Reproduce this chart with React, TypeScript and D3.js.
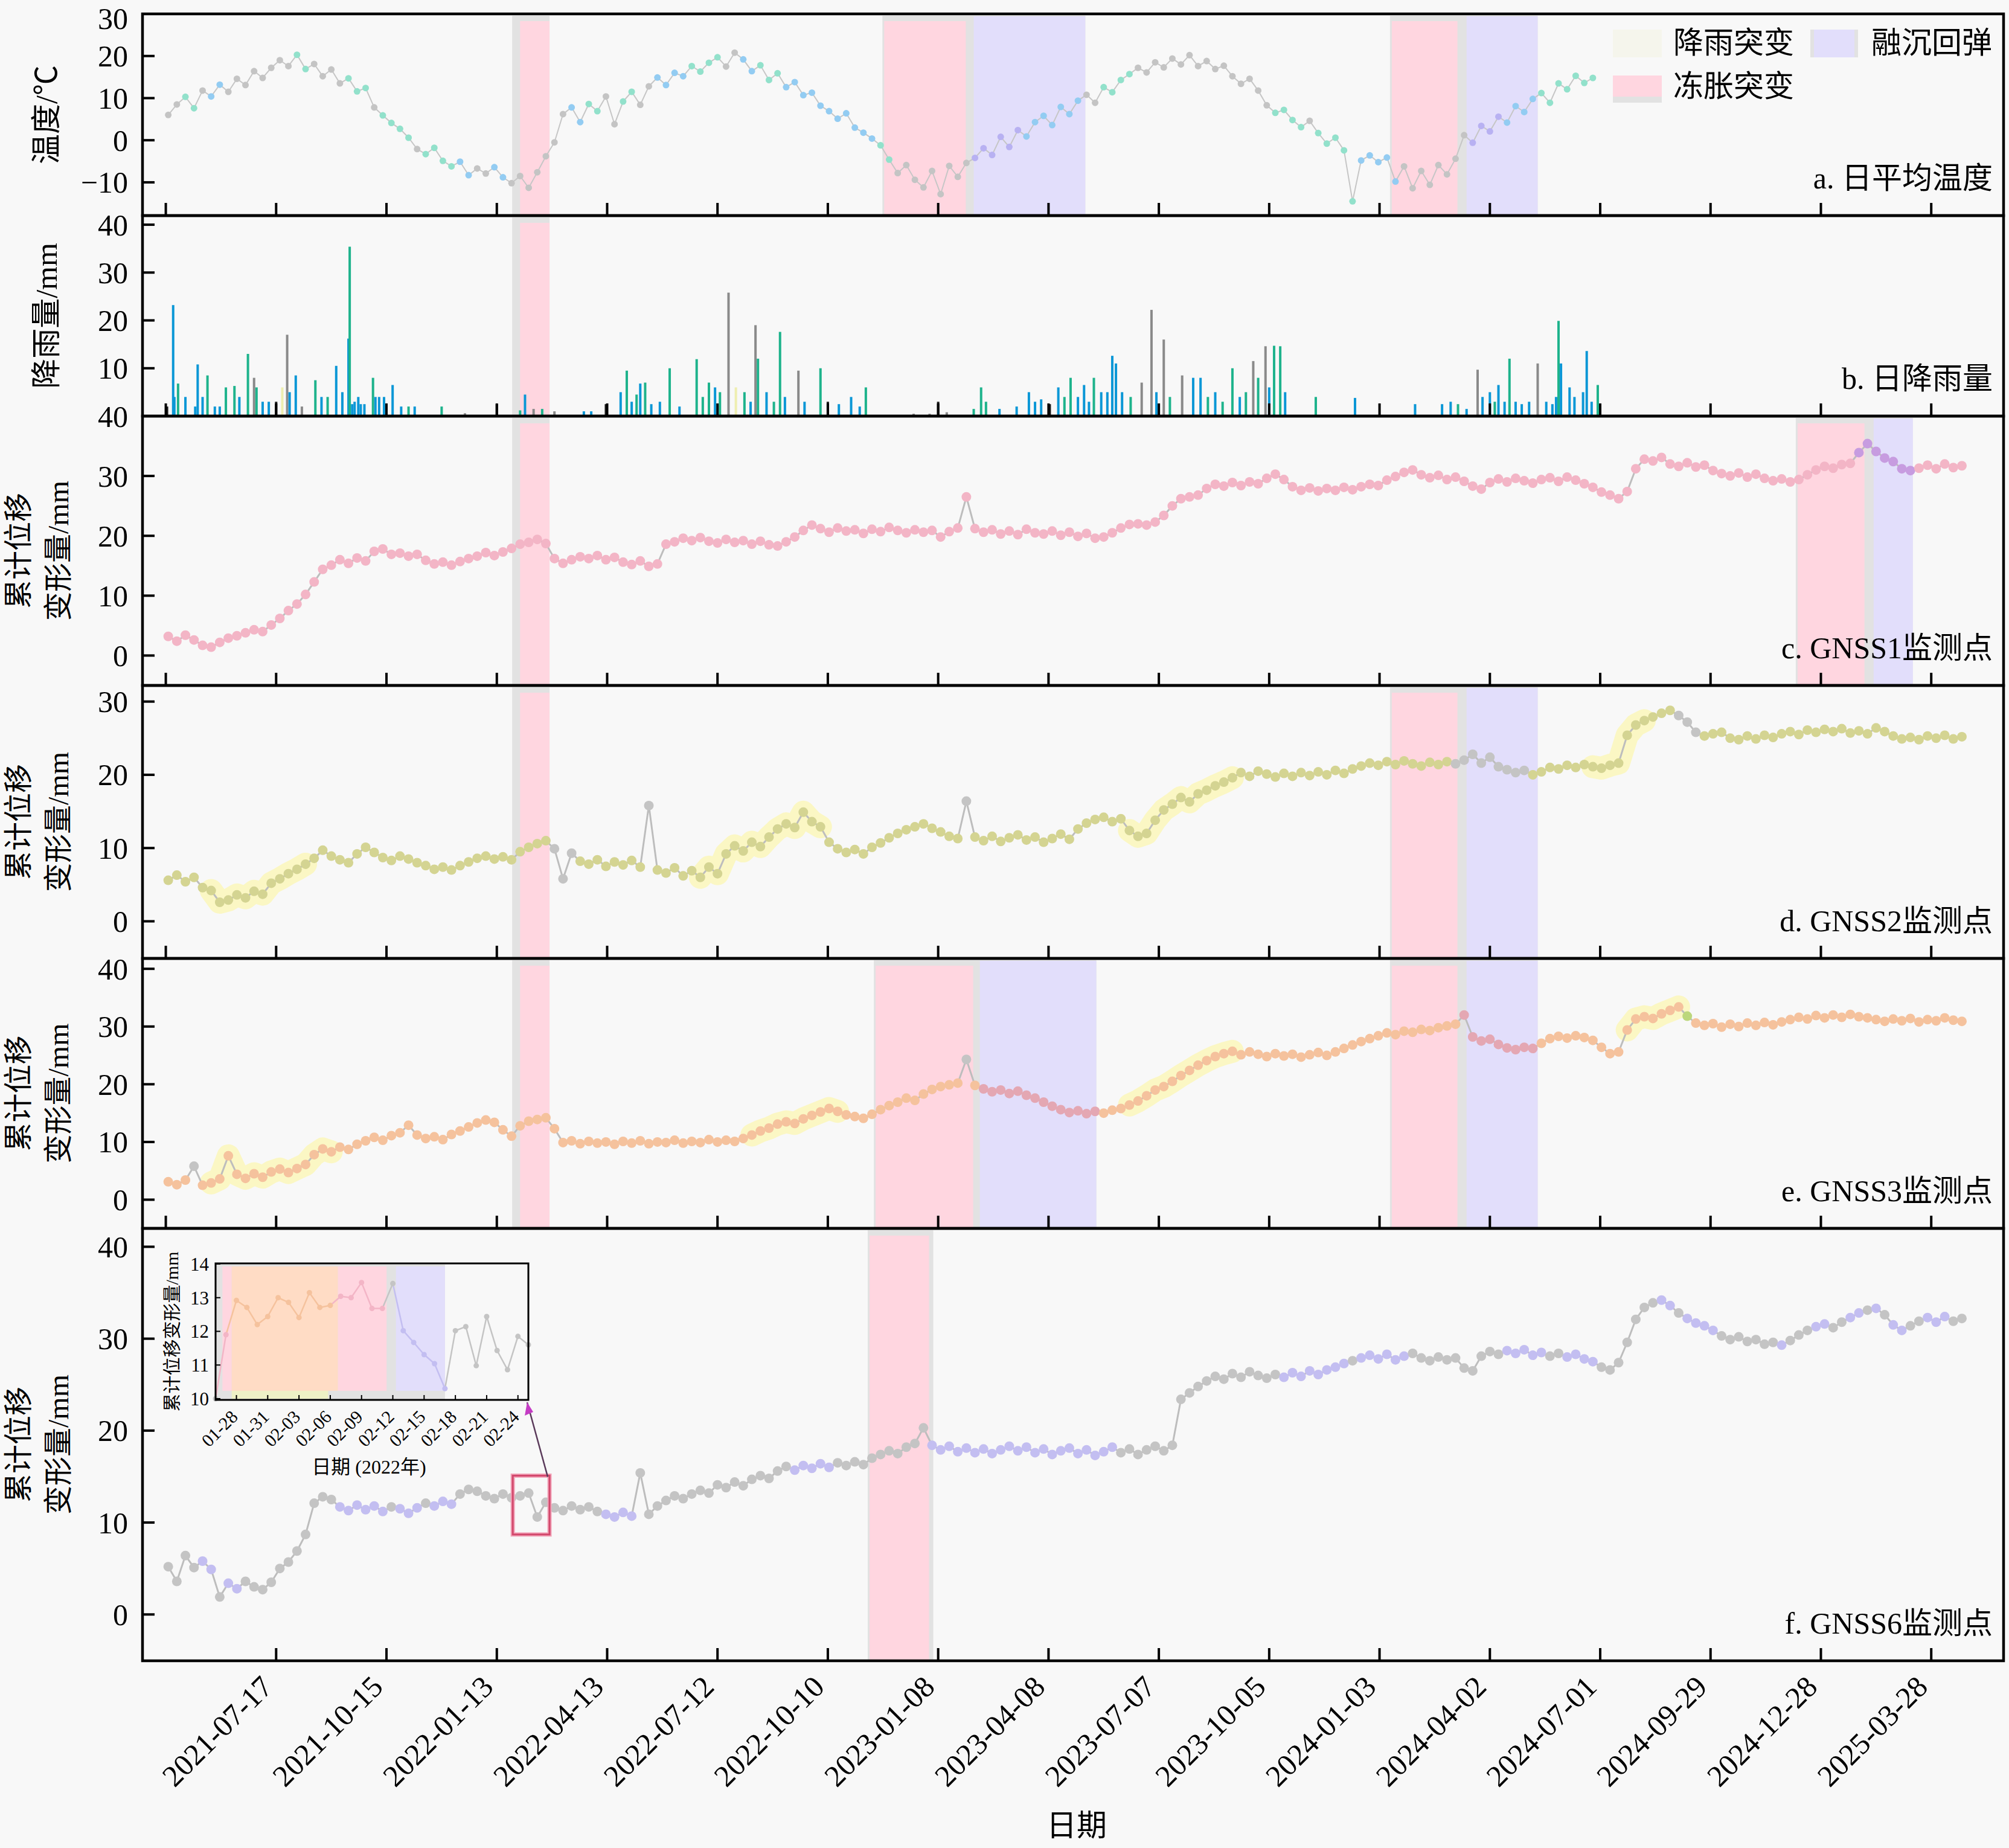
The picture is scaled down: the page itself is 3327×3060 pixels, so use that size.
import React from 'react';
import * as d3 from 'd3';

const W = 3327;
const H = 3060;
const LEFT = 236;
const RIGHT = 3318;
const FONT = "'Liberation Serif','Times New Roman','Noto Sans CJK SC',serif";

const day = (s: string) => d3.timeParse('%Y-%m-%d')(s) as Date;

// x axis
const X_DOMAIN = ['2021-03-30', '2025-05-26'];
const TICK_LABELS = [
  '2021-07-17', '2021-10-15', '2022-01-13', '2022-04-13', '2022-07-12', '2022-10-10',
  '2023-01-08', '2023-04-08', '2023-07-07', '2023-10-05', '2024-01-03', '2024-04-02',
  '2024-07-01', '2024-09-29', '2024-12-28', '2025-03-28',
];
const EXTRA_TICK = '2021-04-18';

// weekly samples
const SERIES_START = '2021-04-20';
const STEP_DAYS = 7;

const temperature = [
  6.0, 8.5, 10.3, 7.6, 11.8, 10.4, 13.2, 11.5, 14.6, 13.1,
  16.4, 14.8, 17.2, 19.0, 17.6, 20.3, 16.9, 18.1, 15.2, 16.8,
  13.5, 14.7, 11.6, 12.4, 7.8, 5.9, 4.1, 2.7, 0.6, -2.1,
  -3.3, -1.8, -4.9, -6.2, -5.1, -8.3, -6.7, -7.9, -6.4, -8.8,
  -10.2, -8.5, -11.3, -7.6, -3.8, -0.5, 6.2, 7.8, 4.3, 8.6,
  6.9, 10.4, 3.8, 9.2, 11.5, 8.4, 12.8, 14.9, 13.1, 16.0,
  15.2, 17.6, 16.3, 18.4, 19.7, 17.5, 20.8, 19.2, 16.4, 17.8,
  14.3, 15.9, 12.6, 13.8, 10.7, 11.3, 8.2, 6.9, 5.1, 6.4,
  3.0, 1.8, 0.4, -1.2, -4.6, -7.8, -5.9, -9.4, -11.2, -7.3,
  -12.8, -6.1, -8.7, -5.4, -4.2, -1.9, -3.5, 0.8, -1.6, 2.4,
  0.9, 4.3, 5.8, 3.6, 7.9, 6.2, 9.4, 10.8, 8.9, 12.6,
  11.4, 14.3, 15.7, 17.2, 16.1, 18.5, 17.3, 19.4, 18.0, 20.2,
  17.6, 18.8, 16.9, 17.7, 15.2, 13.4, 14.6, 11.8, 8.3, 6.5,
  7.2, 4.8, 3.1, 4.6, 1.7, -0.8, 0.6, -2.4, -14.5, -4.8,
  -3.6, -5.2, -4.1, -9.8, -6.2, -11.4, -7.3, -10.6, -5.9, -8.1,
  -4.4, 1.2, -0.6, 3.4, 2.1, 5.6, 4.2, 8.1, 6.7, 9.8,
  11.2, 8.9, 13.5, 12.1, 15.3, 13.6, 14.8,
];

const tempClasses: [string, string, string][] = [
  ['2021-04-30', '2021-05-14', 'teal'], ['2021-05-24', '2021-06-04', 'blue'],
  ['2021-08-03', '2021-08-14', 'teal'], ['2021-09-12', '2021-09-30', 'teal'],
  ['2021-10-10', '2021-11-05', 'teal'], ['2021-11-14', '2021-12-08', 'teal'],
  ['2021-12-10', '2021-12-24', 'blue'], ['2022-01-06', '2022-01-19', 'blue'],
  ['2022-03-10', '2022-03-22', 'blue'], ['2022-03-27', '2022-04-05', 'teal'],
  ['2022-04-23', '2022-05-08', 'teal'], ['2022-05-20', '2022-06-15', 'blue'],
  ['2022-06-20', '2022-07-18', 'teal'], ['2022-07-27', '2022-08-15', 'blue'],
  ['2022-08-16', '2022-08-31', 'teal'], ['2022-09-01', '2022-11-15', 'blue'],
  ['2022-11-16', '2022-12-05', 'teal'], ['2023-02-06', '2023-03-15', 'violet'],
  ['2023-03-16', '2023-05-08', 'blue'], ['2023-05-22', '2023-06-19', 'teal'],
  ['2023-10-09', '2023-11-01', 'teal'], ['2023-11-10', '2023-12-13', 'teal'],
  ['2023-12-14', '2024-01-19', 'blue'], ['2024-03-14', '2024-04-15', 'violet'],
  ['2024-04-16', '2024-05-11', 'blue'], ['2024-05-12', '2024-06-30', 'teal'],
];

// daily rainfall events: date, mm, colour class
const rain: [string, number, string][] = [
  ['2021-04-19', 2, 'd'], ['2021-04-24', 23.2, 'b'], ['2021-04-25', 4, 'b'], ['2021-04-28', 6.8, 'g'],
  ['2021-05-04', 4, 'b'], ['2021-05-12', 2, 'b'], ['2021-05-14', 10.8, 'b'], ['2021-05-18', 4, 'b'],
  ['2021-05-22', 8.5, 'g'], ['2021-05-28', 2, 'b'], ['2021-06-01', 2, 'b'], ['2021-06-06', 6, 'g'],
  ['2021-06-13', 6.3, 'g'], ['2021-06-17', 4, 'b'], ['2021-06-24', 13, 'g'], ['2021-06-29', 8, 'k'],
  ['2021-07-01', 6, 'g'], ['2021-07-06', 3, 'b'], ['2021-07-11', 3, 'b'], ['2021-07-17', 3, 'd'],
  ['2021-07-22', 6, 'y'], ['2021-07-26', 17, 'k'], ['2021-07-28', 5, 'b'], ['2021-08-02', 8.5, 'b'],
  ['2021-08-07', 2, 'k'], ['2021-08-18', 7.5, 'g'], ['2021-08-23', 4, 'b'], ['2021-08-28', 4, 'g'],
  ['2021-09-04', 10.5, 'b'], ['2021-09-09', 5, 'b'], ['2021-09-14', 16.2, 'b'], ['2021-09-15', 35.4, 'g'],
  ['2021-09-17', 2.5, 'b'], ['2021-09-19', 3, 'b'], ['2021-09-22', 4, 'b'], ['2021-09-24', 2.5, 'b'],
  ['2021-09-27', 2.5, 'b'], ['2021-10-04', 8, 'g'], ['2021-10-06', 4, 'b'], ['2021-10-09', 4, 'b'],
  ['2021-10-13', 4, 'b'], ['2021-10-20', 6.5, 'b'], ['2021-10-27', 2, 'b'], ['2021-11-02', 2, 'g'],
  ['2021-11-07', 2, 'b'], ['2021-11-29', 2, 'g'], ['2021-12-18', 0.6, 'k'], ['2022-01-13', 2.5, 'd'],
  ['2022-02-01', 1.2, 'g'], ['2022-02-05', 4.5, 'b'], ['2022-02-12', 1.5, 'k'], ['2022-02-19', 1.5, 'g'],
  ['2022-03-01', 1, 'k'], ['2022-03-25', 1, 'b'], ['2022-03-31', 1, 'b'], ['2022-04-12', 2.5, 'd'],
  ['2022-04-24', 5, 'b'], ['2022-04-29', 9.5, 'g'], ['2022-05-03', 3, 'b'], ['2022-05-07', 4.5, 'g'],
  ['2022-05-10', 6.8, 'b'], ['2022-05-14', 7, 'g'], ['2022-05-19', 2.5, 'b'], ['2022-05-26', 3, 'b'],
  ['2022-06-03', 10, 'g'], ['2022-06-11', 2, 'b'], ['2022-06-25', 11.9, 'g'], ['2022-06-30', 4, 'g'],
  ['2022-07-05', 7, 'g'], ['2022-07-10', 6, 'b'], ['2022-07-14', 5, 'g'], ['2022-07-21', 25.8, 'k'],
  ['2022-07-27', 6, 'y'], ['2022-08-03', 5, 'g'], ['2022-08-08', 3, 'b'], ['2022-08-12', 19, 'k'],
  ['2022-08-14', 12, 'g'], ['2022-08-21', 5, 'b'], ['2022-08-27', 3, 'g'], ['2022-09-01', 17.6, 'g'],
  ['2022-09-05', 4, 'b'], ['2022-09-16', 9.5, 'k'], ['2022-09-21', 3, 'b'], ['2022-10-04', 10, 'g'],
  ['2022-10-10', 3, 'd'], ['2022-10-19', 2.5, 'b'], ['2022-10-29', 4, 'b'], ['2022-11-05', 2, 'b'],
  ['2022-11-10', 6, 'g'], ['2022-12-19', 0.5, 'k'], ['2023-01-01', 0.5, 'k'], ['2023-01-08', 3, 'd'],
  ['2023-01-15', 0.8, 'k'], ['2023-02-06', 1.5, 'g'], ['2023-02-12', 6, 'g'], ['2023-02-16', 3, 'g'],
  ['2023-02-27', 1.5, 'b'], ['2023-03-13', 2, 'b'], ['2023-03-23', 5, 'b'], ['2023-03-28', 3, 'b'],
  ['2023-04-02', 3.5, 'b'], ['2023-04-09', 2.5, 'd'], ['2023-04-16', 6, 'b'], ['2023-04-21', 4, 'g'],
  ['2023-04-26', 8, 'g'], ['2023-05-02', 4, 'b'], ['2023-05-07', 6.5, 'b'], ['2023-05-11', 3, 'b'],
  ['2023-05-15', 8, 'g'], ['2023-05-21', 5, 'b'], ['2023-05-26', 5, 'b'], ['2023-05-30', 12.6, 'b'],
  ['2023-06-02', 11, 'b'], ['2023-06-07', 5, 'b'], ['2023-06-14', 4, 'g'], ['2023-06-23', 7, 'k'],
  ['2023-07-01', 22.2, 'k'], ['2023-07-05', 5, 'b'], ['2023-07-11', 16, 'k'], ['2023-07-16', 4, 'g'],
  ['2023-07-26', 8.5, 'k'], ['2023-08-04', 8, 'b'], ['2023-08-10', 8, 'b'], ['2023-08-16', 4, 'g'],
  ['2023-08-22', 5, 'b'], ['2023-08-28', 3, 'g'], ['2023-09-05', 10, 'g'], ['2023-09-11', 4, 'b'],
  ['2023-09-16', 5, 'g'], ['2023-09-22', 11.5, 'k'], ['2023-09-26', 8, 'g'], ['2023-10-02', 14.6, 'k'],
  ['2023-10-05', 6, 'b'], ['2023-10-09', 14.7, 'g'], ['2023-10-14', 14.6, 'g'], ['2023-10-18', 5, 'b'],
  ['2023-11-12', 4, 'g'], ['2023-12-14', 3.8, 'b'], ['2024-02-01', 2.5, 'b'], ['2024-02-23', 2.5, 'b'],
  ['2024-03-01', 3, 'b'], ['2024-03-07', 2.5, 'g'], ['2024-03-14', 1.5, 'b'], ['2024-03-23', 9.7, 'k'],
  ['2024-03-27', 4, 'b'], ['2024-04-02', 5, 'b'], ['2024-04-06', 3, 'g'], ['2024-04-09', 6.5, 'b'],
  ['2024-04-14', 3, 'b'], ['2024-04-18', 12, 'g'], ['2024-04-23', 3, 'b'], ['2024-04-28', 2.5, 'b'],
  ['2024-05-04', 3, 'b'], ['2024-05-11', 11, 'k'], ['2024-05-18', 3, 'b'], ['2024-05-23', 2.5, 'b'],
  ['2024-05-26', 4, 'b'], ['2024-05-28', 19.9, 'g'], ['2024-05-30', 11, 'b'], ['2024-06-06', 6, 'b'],
  ['2024-06-10', 4, 'b'], ['2024-06-17', 5, 'b'], ['2024-06-20', 13.6, 'b'], ['2024-06-24', 3, 'b'],
  ['2024-06-29', 6.5, 'g'],
];

const gnss1 = [
  3.2, 2.4, 3.4, 2.6, 1.7, 1.4, 2.2, 2.9, 3.3, 3.8,
  4.3, 4.0, 5.1, 6.2, 7.5, 8.6, 10.2, 12.3, 14.4, 15.1,
  16.0, 15.4, 16.3, 15.8, 17.4, 17.8, 16.9, 17.1, 16.6, 16.9,
  15.9, 15.3, 15.6, 15.1, 15.7, 16.2, 16.6, 17.2, 16.7, 17.3,
  17.9, 18.6, 18.9, 19.4, 18.7, 16.2, 15.4, 16.0, 16.5, 16.2,
  16.7, 16.0, 16.4, 15.6, 15.2, 15.8, 14.9, 15.3, 18.6, 19.0,
  19.6, 19.2, 19.7, 19.1, 18.8, 19.4, 18.9, 19.2, 18.6, 19.1,
  18.5, 18.3, 19.0, 19.8, 20.9, 21.8, 21.2, 20.6, 21.3, 20.8,
  21.0, 20.4, 21.1, 20.7, 21.4, 20.9, 20.5, 21.0, 20.6, 20.9,
  19.8, 20.7, 21.3, 26.5, 21.2, 20.6, 21.0, 20.3, 20.8, 20.2,
  21.1, 20.5, 20.3, 20.8, 20.1, 20.6, 19.9, 20.4, 19.6, 19.8,
  20.5, 21.3, 21.9, 22.0, 21.8, 22.3, 23.4, 25.0, 26.2, 26.5,
  26.8, 27.9, 28.6, 28.3, 28.9, 28.4, 29.0, 28.7, 29.6, 30.3,
  29.4, 28.2, 27.6, 28.0, 27.5, 27.9, 27.6, 28.1, 27.7, 28.2,
  28.6, 28.4, 29.3, 29.9, 30.6, 31.0, 30.2, 29.7, 30.1, 29.4,
  29.8, 29.1, 28.3, 27.8, 28.9, 29.5, 29.0, 29.6, 29.2, 28.8,
  29.4, 29.7, 29.1, 29.8, 29.3, 28.7, 28.1, 27.3, 26.8, 26.2,
  27.4, 31.2, 32.8, 32.5, 33.1, 32.0, 31.6, 32.2, 31.5, 31.8,
  30.9, 30.4, 30.0, 30.5, 29.8, 30.3, 29.6, 29.2, 29.5, 29.0,
  29.4, 30.2, 31.0, 31.6, 31.3, 31.9, 32.1, 33.9, 35.4, 34.1,
  33.0, 32.4, 31.2, 30.9, 31.3, 31.8, 31.2, 32.0, 31.4, 31.7,
];

const gnss2 = [
  5.6, 6.3, 5.4, 6.0, 4.6, 4.2, 2.6, 2.9, 3.6, 3.2,
  4.1, 3.7, 5.2, 5.8, 6.5, 7.1, 7.8, 8.6, 9.7, 8.9,
  8.4, 8.0, 9.2, 10.1, 9.4, 8.7, 8.3, 8.9, 8.5, 8.0,
  7.6, 7.1, 7.4, 7.0, 7.6, 8.1, 8.6, 8.9, 8.5, 8.8,
  8.4, 9.5, 10.1, 10.6, 11.0, 9.9, 5.8, 9.3, 8.2, 7.8,
  8.4, 7.5, 8.1, 7.7, 8.3, 7.4, 15.8, 7.0, 6.6, 7.3,
  6.2, 6.9, 6.0, 7.4, 6.5, 9.2, 10.3, 9.6, 10.8, 10.2,
  11.5, 12.6, 13.3, 12.8, 14.9, 13.6, 12.9, 10.8, 9.9, 9.4,
  9.8, 9.2, 10.1, 10.7, 11.4, 12.0, 12.5, 12.9, 13.3, 12.7,
  12.2, 11.6, 11.3, 16.4, 11.5, 11.0, 11.6, 10.9, 11.4, 11.8,
  11.1, 11.5, 10.8, 11.3, 11.9, 11.2, 12.6, 13.4, 13.9, 14.2,
  13.6, 14.0, 12.4, 11.6, 12.0, 13.8, 15.2, 16.0, 16.9, 16.3,
  17.4, 17.9, 18.5, 19.0, 19.6, 20.3, 19.8, 20.5, 20.1, 19.7,
  20.2, 19.8, 20.3, 19.9, 20.4, 20.0, 20.6, 20.2, 20.8, 21.2,
  21.6, 21.3, 21.8, 21.4, 21.9, 21.5, 21.2, 21.7, 21.4, 21.8,
  21.5, 22.0, 22.8, 21.6, 22.4, 21.1, 20.7, 20.3, 20.6, 20.0,
  20.4, 21.0, 20.8, 21.3, 21.0, 21.4, 21.1, 20.9, 21.3, 21.6,
  25.4, 26.8, 27.4, 27.9, 28.4, 28.8, 28.1, 27.2, 25.8, 25.3,
  25.6, 25.8, 25.0, 24.8, 25.3, 24.9, 25.4, 25.1, 25.6, 25.9,
  25.5, 26.1, 25.8, 26.2, 25.9, 26.3, 25.7, 26.0, 25.6, 26.4,
  25.9, 25.3, 24.9, 25.1, 24.8, 25.3, 25.0, 25.4, 24.9, 25.2,
];

const gnss3 = [
  3.1, 2.6, 3.4, 5.8, 2.5, 2.9, 3.6, 7.6, 4.4, 3.7,
  4.5, 3.9, 4.8, 5.3, 4.7, 5.4, 6.1, 7.8, 8.8, 8.3,
  9.1, 8.7, 9.6, 10.2, 10.8, 10.3, 11.1, 11.6, 12.9, 11.2,
  10.6, 10.9, 10.4, 11.3, 11.9, 12.6, 13.3, 13.8, 13.4, 12.1,
  11.0, 12.8, 13.6, 13.9, 14.2, 12.3, 9.9, 10.2, 9.7, 10.1,
  9.8, 10.0, 9.6, 10.1, 9.8, 10.2, 9.7, 10.0, 9.9, 10.3,
  9.8, 10.1, 9.9, 10.4, 10.0, 10.3, 10.1, 10.6, 11.2, 11.9,
  12.4, 13.1, 13.5, 13.2, 14.0, 14.6, 15.2, 15.8, 15.3, 14.7,
  14.4, 14.1, 14.8, 15.6, 16.3, 16.9, 17.6, 17.2, 18.3, 19.1,
  19.6, 19.9, 20.2, 24.3, 19.8, 19.2, 18.7, 19.0, 18.4, 18.8,
  18.1, 17.6, 16.9, 16.2, 15.6, 15.1, 15.4, 14.9, 15.3, 15.0,
  15.5, 15.8, 16.4, 17.1, 18.0, 19.0, 19.6, 20.5, 21.5, 22.4,
  23.3, 24.1, 24.8, 25.3, 25.7, 25.1, 25.6, 25.2, 24.8, 25.3,
  24.9, 25.2, 24.7, 25.1, 25.5, 25.0, 25.6, 26.2, 26.8, 27.4,
  27.9, 28.4, 28.9, 28.6, 29.2, 29.0, 29.5, 29.3, 29.8, 30.1,
  30.4, 32.0, 28.2, 27.5, 27.8, 26.9, 26.3, 26.0, 26.4, 26.2,
  27.1, 27.9, 28.3, 28.0, 28.4, 28.1, 27.6, 26.4, 25.3, 25.6,
  29.4, 31.3, 31.7, 31.4, 32.2, 32.8, 33.4, 31.8, 30.6, 30.2,
  30.5, 29.9, 30.4, 30.0, 30.6, 30.2, 30.7, 30.3, 30.8, 31.2,
  31.6, 31.3, 31.9, 31.5, 32.0, 31.6, 32.1, 31.7, 31.5, 31.2,
  30.9, 31.3, 31.0, 31.4, 30.8, 31.2, 31.0, 31.5, 31.1, 30.9,
];

const gnss6 = [
  5.2, 3.6, 6.4, 5.1, 5.8, 4.9, 1.9, 3.4, 2.8, 3.6,
  3.0, 2.7, 3.5, 5.0, 5.7, 6.9, 8.7, 12.1, 12.8, 12.5,
  11.7, 11.3, 11.9, 11.4, 11.8, 11.2, 11.7, 11.5, 11.0, 11.6,
  12.1, 11.8, 12.3, 12.0, 13.1, 13.6, 13.4, 12.9, 12.6, 13.1,
  12.7, 12.9, 13.2, 10.6, 12.2, 11.6, 11.3, 11.8, 11.4, 11.7,
  11.2, 10.9, 10.6, 11.1, 10.7, 15.4, 10.9, 11.8, 12.4, 12.9,
  12.6, 13.1, 13.5, 13.2, 14.1, 13.8, 14.4, 14.0, 14.7, 15.1,
  14.8, 15.6, 16.1, 15.7, 16.2, 15.9, 16.4, 16.0, 16.5, 16.2,
  16.6, 16.3, 17.0, 17.4, 17.8, 17.5, 18.2, 18.6, 20.3, 18.4,
  17.9, 18.3, 17.7, 18.1, 17.6, 18.0, 17.5, 17.9, 18.3, 17.8,
  18.2, 17.6, 18.0, 17.4, 17.8, 18.1, 17.5, 17.9, 17.3, 17.7,
  18.2, 17.6, 18.0, 17.4, 17.9, 18.3, 17.8, 18.4, 23.4, 24.1,
  24.8, 25.4, 25.9, 25.6, 26.2, 25.8, 26.4, 26.0, 25.7, 26.1,
  25.8, 26.3, 25.9, 26.5, 26.1, 26.6, 26.9, 27.3, 27.6, 27.9,
  28.2, 27.8, 28.3, 27.7, 28.1, 28.4, 27.9, 27.6, 28.0, 27.7,
  27.9, 26.8, 26.5, 28.1, 28.6, 28.3, 28.7, 28.4, 28.8, 28.2,
  28.5, 28.1, 28.4, 28.0, 28.3, 27.8, 27.5, 26.9, 26.6, 27.4,
  29.6, 32.1, 33.4, 33.9, 34.2, 33.6, 32.8, 32.2, 31.7, 31.4,
  30.9, 30.3, 29.9, 30.2, 29.7, 29.9, 29.4, 29.6, 29.3, 29.8,
  30.4, 30.9, 31.3, 31.6, 31.2, 31.8, 32.3, 32.8, 33.1, 33.3,
  32.6, 31.5, 30.9, 31.4, 31.9, 32.3, 31.8, 32.4, 31.9, 32.2,
];

// point classes by sample index
const gnss1Classes: [number, number, string][] = [[197, 203, 'purple']];
const gnss2Classes: [number, number, string][] = [
  [45, 47, 'grey'], [56, 56, 'grey'], [93, 93, 'grey'], [150, 158, 'grey'], [176, 178, 'grey'],
];
const gnss3Classes: [number, number, string][] = [
  [3, 3, 'grey'], [93, 93, 'grey'], [95, 108, 'rose'], [151, 159, 'rose'], [177, 177, 'green'],
];
const gnss6Classes: [number, number, string][] = [
  [4, 5, 'lilac'], [7, 8, 'lilac'], [20, 25, 'lilac'], [27, 29, 'lilac'], [31, 33, 'lilac'],
  [51, 54, 'lilac'], [73, 77, 'lilac'], [89, 110, 'lilac'], [130, 137, 'lilac'], [139, 144, 'lilac'],
  [156, 160, 'lilac'], [163, 166, 'lilac'], [174, 175, 'lilac'], [177, 180, 'lilac'], [188, 188, 'lilac'],
  [192, 193, 'lilac'], [196, 197, 'lilac'], [199, 199, 'lilac'], [201, 202, 'lilac'], [205, 207, 'lilac'],
];
const gnss2Ribbons: [number, number][] = [[5, 16], [62, 76], [112, 124], [166, 172]];
const gnss3Ribbons: [number, number][] = [[5, 19], [68, 78], [112, 124], [170, 176]];

// event bands per panel
const bandsA: [string, string, string][] = [
  ['2022-01-27', '2022-02-01', 'grey'], ['2022-02-01', '2022-02-25', 'pink'],
  ['2022-11-25', '2023-02-01', 'pink'], ['2023-02-01', '2023-02-06', 'grey'], ['2023-02-06', '2023-05-08', 'purple'],
  ['2024-01-13', '2024-03-08', 'pink'], ['2024-03-08', '2024-03-14', 'grey'], ['2024-03-14', '2024-05-11', 'purple'],
];
const bandsB: [string, string, string][] = [
  ['2022-01-27', '2022-02-01', 'grey'], ['2022-02-01', '2022-02-25', 'pink'],
];
const bandsC: [string, string, string][] = [
  ['2022-01-27', '2022-02-01', 'grey'], ['2022-02-01', '2022-02-25', 'pink'],
  ['2024-12-09', '2025-02-03', 'pink'], ['2025-02-03', '2025-02-09', 'grey'], ['2025-02-09', '2025-03-13', 'purple'],
];
const bandsD: [string, string, string][] = [
  ['2022-01-27', '2022-02-01', 'grey'], ['2022-02-01', '2022-02-25', 'pink'],
  ['2024-01-13', '2024-03-08', 'pink'], ['2024-03-08', '2024-03-14', 'grey'], ['2024-03-14', '2024-05-11', 'purple'],
];
const bandsE: [string, string, string][] = [
  ['2022-01-27', '2022-02-01', 'grey'], ['2022-02-01', '2022-02-25', 'pink'],
  ['2022-11-18', '2023-02-07', 'pink'], ['2023-02-07', '2023-02-11', 'grey'], ['2023-02-11', '2023-05-17', 'purple'],
  ['2024-01-13', '2024-03-08', 'pink'], ['2024-03-08', '2024-03-14', 'grey'], ['2024-03-14', '2024-05-11', 'purple'],
];
const bandsF: [string, string, string][] = [
  ['2022-11-13', '2023-01-02', 'pink'], ['2023-01-02', '2023-01-04', 'grey'],
];

// inset: GNSS6, daily, 2022-01-26 .. 2022-02-25
const INSET_START = '2022-01-26';
const insetValues = [
  10.0, 11.9, 12.92, 12.71, 12.2, 12.44, 13.0, 12.86, 12.41, 13.15,
  12.71, 12.77, 13.04, 13.0, 13.45, 12.68, 12.68, 13.42, 12.02, 11.67,
  11.31, 11.04, 10.3, 12.02, 12.14, 10.98, 12.44, 11.43, 10.86, 11.85, 11.6,
];
const insetClasses = [
  'grey', 'pink', 'orange', 'orange', 'orange', 'orange', 'orange', 'orange', 'orange', 'orange',
  'orange', 'orange', 'pink', 'pink', 'pink', 'pink', 'pink', 'grey', 'lilac', 'lilac',
  'lilac', 'lilac', 'lilac', 'grey', 'grey', 'grey', 'grey', 'grey', 'grey', 'grey', 'grey',
];
const insetBands: [number, number, string][] = [
  [0, 0.66, 'grey'], [0.66, 1.55, 'pink'], [1.55, 11.74, 'orange'], [11.74, 16.4, 'pink'],
  [16.4, 17.3, 'grey'], [17.3, 22.0, 'purple'],
];
const INSET_TICKS = ['01-28', '01-31', '02-03', '02-06', '02-09', '02-12', '02-15', '02-18', '02-21', '02-24'];
const INSET_Y_TICKS = [10, 11, 12, 13, 14];

const POINT: Record<string, string> = {
  grey: '#c4c4c4', teal: '#92e1cb', blue: '#93ccf2', violet: '#b8b1f2',
  pink: '#f3b5c6', olive: '#d4d492', orange: '#f5c29d', rose: '#e4a7b3',
  lilac: '#c3bef1', purple: '#c79ce0', green: '#bcd77c',
};
const BAND: Record<string, string> = {
  pink: '#ffd6e0', purple: '#e2defb', grey: '#e2e2e2', orange: '#ffdcc5',
};
const RAIN: Record<string, string> = {
  g: '#1eb38c', b: '#0b97d6', k: '#8a8a8a', d: '#1c1c1c', y: '#eeeeb0',
};

const fmt = (v: number) => (v < 0 ? '\u2212' + Math.abs(v) : String(v));

function classOf(i: number, ranges: [number, number, string][], dflt: string) {
  for (const [a, b, k] of ranges) if (i >= a && i <= b) return k;
  return dflt;
}

const x = d3.scaleTime().domain(X_DOMAIN.map(day)).range([LEFT, RIGHT]);
const sampleDates = (n: number) => d3.range(n).map((i) => d3.timeDay.offset(day(SERIES_START), i * STEP_DAYS));

interface PanelDef {
  top: number;
  bottom: number;
  domain: [number, number];
  ticks: number[];
  label: string;
  bands: [string, string, string][];
  firstTick: boolean;
}

const panelA: PanelDef = { top: 23, bottom: 357, domain: [-17.9, 30], ticks: [-10, 0, 10, 20, 30], label: 'a. 日平均温度', bands: bandsA, firstTick: true };
const panelB: PanelDef = { top: 357, bottom: 689, domain: [0, 41.9], ticks: [10, 20, 30, 40], label: 'b. 日降雨量', bands: bandsB, firstTick: true };
const panelC: PanelDef = { top: 689, bottom: 1135, domain: [-5, 40], ticks: [0, 10, 20, 30, 40], label: 'c. GNSS1监测点', bands: bandsC, firstTick: true };
const panelD: PanelDef = { top: 1135, bottom: 1587, domain: [-5.07, 32.2], ticks: [0, 10, 20, 30], label: 'd. GNSS2监测点', bands: bandsD, firstTick: true };
const panelE: PanelDef = { top: 1587, bottom: 2034, domain: [-4.97, 41.8], ticks: [0, 10, 20, 30, 40], label: 'e. GNSS3监测点', bands: bandsE, firstTick: true };
const panelF: PanelDef = { top: 2034, bottom: 2750, domain: [-5.04, 42], ticks: [0, 10, 20, 30, 40], label: 'f. GNSS6监测点', bands: bandsF, firstTick: false };

const yOf = (p: PanelDef) => d3.scaleLinear().domain(p.domain).range([p.bottom, p.top]);

function Bands({ p }: { p: PanelDef }) {
  return (
    <g>
      {p.bands.map(([s, e, k], i) => {
        const x0 = x(day(s));
        const x1 = x(day(e));
        const inset = k === 'pink' ? 12 : 4;
        return (
          <g key={i}>
            <rect x={x0 - 3} y={p.top + 3} width={x1 - x0 + 3} height={p.bottom - p.top - 4} fill={BAND.grey} />
            {k !== 'grey' && (
              <rect x={x0} y={p.top + inset} width={x1 - x0} height={p.bottom - p.top - inset - 1} fill={BAND[k]} />
            )}
          </g>
        );
      })}
    </g>
  );
}

function Frame({ p, yLabel }: { p: PanelDef; yLabel: string[] }) {
  const y = yOf(p);
  const tickDates = (p.firstTick ? [EXTRA_TICK, ...TICK_LABELS] : TICK_LABELS).map(day);
  const cy = (p.top + p.bottom) / 2;
  return (
    <g>
      <rect x={LEFT} y={p.top} width={RIGHT - LEFT} height={p.bottom - p.top} fill="none" stroke="#000" strokeWidth={4.5} />
      {p.ticks.map((t) => (
        <g key={t}>
          <line x1={LEFT} x2={LEFT + 20} y1={y(t)} y2={y(t)} stroke="#000" strokeWidth={4} />
          <text x={212} y={Math.max(y(t), 30)} dy="0.35em" textAnchor="end" fontSize={50}>{fmt(t)}</text>
        </g>
      ))}
      {tickDates.map((d, i) => (
        <line key={i} x1={x(d)} x2={x(d)} y1={p.bottom} y2={p.bottom - 21} stroke="#000" strokeWidth={4} />
      ))}
      {yLabel.length === 1 ? (
        <text transform={`translate(77,${cy}) rotate(-90)`} textAnchor="middle" dominantBaseline="central" fontSize={50}>
          {yLabel[0]}
        </text>
      ) : (
        <g>
          <text transform={`translate(30,${cy}) rotate(-90)`} textAnchor="middle" dominantBaseline="central" fontSize={48}>
            {yLabel[0]}
          </text>
          <text transform={`translate(96,${cy}) rotate(-90)`} textAnchor="middle" dominantBaseline="central" fontSize={48}>
            {yLabel[1]}
          </text>
        </g>
      )}
      <text x={3300} y={p.bottom - 45} textAnchor="end" fontSize={50}>{p.label}</text>
    </g>
  );
}

function PointSeries({ p, values, classes, base, ribbons, r }: {
  p: PanelDef; values: number[]; classes: [number, number, string][]; base: string; ribbons: [number, number][]; r: number;
}) {
  const y = yOf(p);
  const dates = sampleDates(values.length);
  const pts: [number, number][] = values.map((v, i) => [x(dates[i]), y(v)]);
  const line = d3.line();
  return (
    <g>
      {ribbons.map(([a, b], i) => (
        <path key={i} d={line(pts.slice(a, b + 1)) || ''} fill="none" stroke="#fbf7c4" strokeWidth={38}
          strokeLinecap="round" strokeLinejoin="round" />
      ))}
      <path d={line(pts) || ''} fill="none" stroke="#bdbdbd" strokeWidth={3} />
      {pts.map(([px, py], i) => (
        <circle key={i} cx={px} cy={py} r={r} fill={POINT[classOf(i, classes, base)]} />
      ))}
    </g>
  );
}

function TemperatureSeries({ p }: { p: PanelDef }) {
  const y = yOf(p);
  const dates = sampleDates(temperature.length);
  const pts: [number, number][] = temperature.map((v, i) => [x(dates[i]), y(v)]);
  const ranges = tempClasses.map(([s, e, k]) => [day(s), day(e), k] as [Date, Date, string]);
  const colour = (d: Date) => {
    for (const [s, e, k] of ranges) if (d >= s && d <= e) return POINT[k];
    return POINT.grey;
  };
  return (
    <g>
      <path d={d3.line()(pts) || ''} fill="none" stroke="#c6c6c6" strokeWidth={2} />
      {pts.map(([px, py], i) => (
        <circle key={i} cx={px} cy={py} r={5.5} fill={colour(dates[i])} />
      ))}
    </g>
  );
}

function RainBars({ p }: { p: PanelDef }) {
  const y = yOf(p);
  return (
    <g>
      {rain.map(([d, v, k], i) => (
        <rect key={i} x={x(day(d)) - 2} y={y(v)} width={4} height={y(0) - y(v)} fill={RAIN[k]} />
      ))}
    </g>
  );
}

function Legend() {
  return (
    <g fontSize={50}>
      <rect x={2671} y={49} width={81} height={46} fill="#f5f5ec" />
      <text x={2771} y={88}>降雨突变</text>
      <rect x={2998} y={49} width={79} height={46} fill={BAND.grey} />
      <rect x={3004} y={49} width={67} height={46} fill={BAND.purple} />
      <text x={3099} y={88}>融沉回弹</text>
      <rect x={2671} y={125} width={81} height={45} fill={BAND.grey} />
      <rect x={2671} y={125} width={81} height={35} fill={BAND.pink} />
      <text x={2771} y={160}>冻胀突变</text>
    </g>
  );
}

function Inset({ pf }: { pf: PanelDef }) {
  const L = 357, R = 875, T = 2092, B = 2318;
  const xi = d3.scaleTime().domain([day(INSET_START), d3.timeDay.offset(day(INSET_START), 30)]).range([L, R]);
  const yi = d3.scaleLinear().domain([10, 14]).range([B - 2, T + 1]);
  const dayX = (n: number) => L + ((R - L) * n) / 30;
  const dates = insetValues.map((_, i) => d3.timeDay.offset(day(INSET_START), i));
  const pts = insetValues.map((v, i) => [xi(dates[i]), yi(v)] as [number, number]);
  const yMain = yOf(pf);
  const bx0 = x(day('2022-01-26'));
  const bx1 = x(day('2022-02-25'));
  const by0 = yMain(15.1);
  const by1 = yMain(8.7);
  return (
    <g>
      <rect x={L} y={T} width={R - L} height={B - T} fill="#f8f8f8" />
      <rect x={dayX(0)} y={T + 2} width={dayX(22) - dayX(0)} height={B - T - 3} fill={BAND.grey} />
      {insetBands.map(([a, b, k], i) =>
        k === 'grey' ? null : (
          <rect key={i} x={dayX(a)} y={T + 5} width={dayX(b) - dayX(a)} height={B - T - 20} fill={BAND[k]} />
        ),
      )}
      <rect x={dayX(1.55)} y={B - 15} width={dayX(10.8) - dayX(1.55)} height={13} fill="#eef1c6" />
      {pts.slice(1).map(([px, py], i) => (
        <line key={i} x1={pts[i][0]} y1={pts[i][1]} x2={px} y2={py} stroke={POINT[insetClasses[i + 1]]} strokeWidth={2.5} />
      ))}
      {pts.map(([px, py], i) => (
        <circle key={i} cx={px} cy={py} r={4.5} fill={POINT[insetClasses[i]]} />
      ))}
      <rect x={L} y={T} width={R - L} height={B - T} fill="none" stroke="#000" strokeWidth={3} />
      {INSET_Y_TICKS.map((t) => (
        <g key={t}>
          <line x1={L} x2={L + 8} y1={yi(t)} y2={yi(t)} stroke="#000" strokeWidth={2} />
          <text x={346} y={yi(t)} dy="0.35em" textAnchor="end" fontSize={31}>{t}</text>
        </g>
      ))}
      {INSET_TICKS.map((t) => {
        const tx = xi(day('2022-' + t));
        return (
          <g key={t}>
            <line x1={tx} x2={tx} y1={B} y2={B - 8} stroke="#000" strokeWidth={2} />
            <text transform={`translate(${tx + 4},${B + 30}) rotate(-45)`} textAnchor="end" fontSize={30}>{t}</text>
          </g>
        );
      })}
      <text x={611} y={2440} textAnchor="middle" fontSize={32}>日期 (2022年)</text>
      <text transform={`translate(284,${(T + B) / 2}) rotate(-90)`} textAnchor="middle" dominantBaseline="central" fontSize={30}>
        累计位移变形量/mm
      </text>
      <rect x={bx0} y={by0} width={bx1 - bx0} height={by1 - by0} fill="none" stroke="#f2a3b8" strokeWidth={7} />
      <rect x={bx0} y={by0} width={bx1 - bx0} height={by1 - by0} fill="none" stroke="#d2486c" strokeWidth={3} />
      <line x1={bx1 - 3} y1={by0 + 2} x2={R - 2} y2={B + 4} stroke="#5a3a5a" strokeWidth={2.5} />
      <path d={`M${R - 2},${B + 4} l-4,22 l14,-6 z`} fill="#c43cc4" />
    </g>
  );
}

export default function App() {
  const tickDates = TICK_LABELS.map(day);
  return (
    <svg width={W} height={H} style={{ position: 'absolute', left: 0, top: 0 }} fontFamily={FONT}>
      <rect width={W} height={H} fill="#f8f8f8" />

      <Bands p={panelA} />
      <Bands p={panelB} />
      <Bands p={panelC} />
      <Bands p={panelD} />
      <Bands p={panelE} />
      <Bands p={panelF} />

      <TemperatureSeries p={panelA} />
      <RainBars p={panelB} />
      <PointSeries p={panelC} values={gnss1} classes={gnss1Classes} base="pink" ribbons={[]} r={8} />
      <PointSeries p={panelD} values={gnss2} classes={gnss2Classes} base="olive" ribbons={gnss2Ribbons} r={8} />
      <PointSeries p={panelE} values={gnss3} classes={gnss3Classes} base="orange" ribbons={gnss3Ribbons} r={8} />
      <PointSeries p={panelF} values={gnss6} classes={gnss6Classes} base="grey" ribbons={[]} r={8} />

      <Frame p={panelA} yLabel={['温度/℃']} />
      <Frame p={panelB} yLabel={['降雨量/mm']} />
      <Frame p={panelC} yLabel={['累计位移', '变形量/mm']} />
      <Frame p={panelD} yLabel={['累计位移', '变形量/mm']} />
      <Frame p={panelE} yLabel={['累计位移', '变形量/mm']} />
      <Frame p={panelF} yLabel={['累计位移', '变形量/mm']} />

      <Legend />
      <Inset pf={panelF} />

      {TICK_LABELS.map((t, i) => (
        <text key={t} transform={`translate(${x(tickDates[i]) - 3},2796) rotate(-45)`} textAnchor="end" fontSize={50}>
          {t}
        </text>
      ))}
      <text x={1783} y={3040} textAnchor="middle" fontSize={50}>日期</text>
    </svg>
  );
}
